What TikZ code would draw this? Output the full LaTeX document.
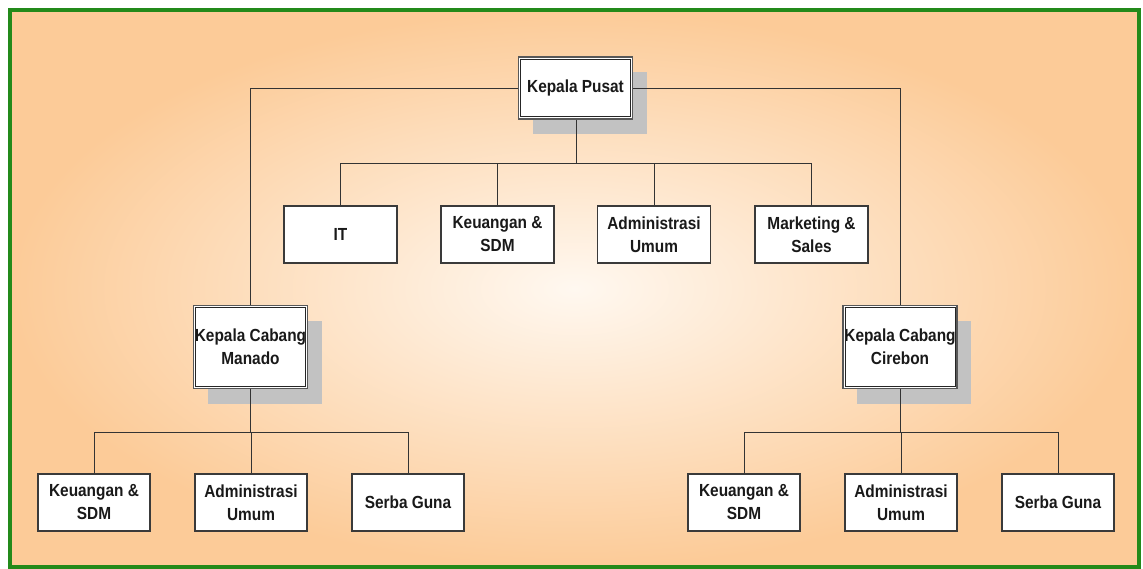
\documentclass[tikz,border=0pt]{standalone}
\usepackage{fontspec}
\newfontfamily\boxfont{Liberation Sans}[FakeStretch=0.88]
\usetikzlibrary{shadows}
\definecolor{peachout}{HTML}{FCCB98}
\definecolor{peachin}{HTML}{FFF8F0}
\definecolor{frame}{HTML}{238A1A}
\definecolor{boxline}{HTML}{3A3A3A}
\definecolor{shadowgray}{HTML}{C2C2C2}
\tikzset{
  unit/.style={draw=boxline, line width=1.2pt, fill=white, align=center,
    font=\boxfont\bfseries\fontsize{17.5}{23}\selectfont, text=black!90,
    inner sep=0pt, minimum width=113pt, minimum height=57pt},
  head/.style={unit, draw=boxline!85, line width=1.8pt,
    drop shadow={shadow xshift=14pt, shadow yshift=-15pt, fill=shadowgray, opacity=1}},
  inner frame/.style={draw=black!85, line width=0.8pt},
  link/.style={draw=black!80, line width=0.9pt}
}
\begin{document}
\begin{tikzpicture}[x=1pt,y=-1pt]
\useasboundingbox (0,0) rectangle (1143,569);
\fill[white] (0,0) rectangle (1143,569);
\shade[inner color=peachin, outer color=peachout] (10,10) rectangle (1139,567);
\draw[frame, line width=3.2pt] (10,10) rectangle (1139,567);

% head office
\node[head, minimum width=114pt, minimum height=62pt] (pusat) at (575.5,88) {Kepala Pusat};

% departments
\node[unit] (it)   at (340.5,234.5) {IT};
\node[unit] (keu)  at (497.5,234.5) {Keuangan \&\\SDM};
\node[unit] (adm)  at (654,234.5)   {Administrasi\\Umum};
\node[unit] (mkt)  at (811.5,234.5) {Marketing \&\\Sales};

% branches
\node[head, minimum width=114pt, minimum height=83pt] (manado)  at (250.5,347) {Kepala Cabang\\Manado};
\node[head, minimum width=114pt, minimum height=83pt] (cirebon) at (900,347)   {Kepala Cabang\\Cirebon};

\foreach \n in {pusat,manado,cirebon}
  \draw[inner frame] ([shift={(3pt,-3pt)}]\n.north west) rectangle ([shift={(-3pt,3pt)}]\n.south east);

% branch units
\node[unit, minimum width=112pt] (mkeu) at (94,502.5)   {Keuangan \&\\SDM};
\node[unit, minimum width=112pt] (madm) at (251,502.5)  {Administrasi\\Umum};
\node[unit, minimum width=112pt] (msg)  at (408,502.5)  {Serba Guna};
\node[unit, minimum width=112pt] (ckeu) at (744,502.5)  {Keuangan \&\\SDM};
\node[unit, minimum width=112pt] (cadm) at (901,502.5)  {Administrasi\\Umum};
\node[unit, minimum width=112pt] (csg)  at (1058,502.5) {Serba Guna};

% connectors
\coordinate (busT) at (576,163);
\coordinate (busM) at (250.5,432);
\coordinate (busC) at (900,432);

\draw[link] (pusat.west) -| (manado.north);
\draw[link] (pusat.east) -| (cirebon.north);
\draw[link] (pusat.south -| busT) -- (busT);
\foreach \n in {it,keu,adm,mkt} \draw[link] (\n.north) |- (busT);
\draw[link] (manado.south) -- (busM);
\foreach \n in {mkeu,madm,msg} \draw[link] (\n.north) |- (busM);
\draw[link] (cirebon.south) -- (busC);
\foreach \n in {ckeu,cadm,csg} \draw[link] (\n.north) |- (busC);
\end{tikzpicture}
\end{document}
